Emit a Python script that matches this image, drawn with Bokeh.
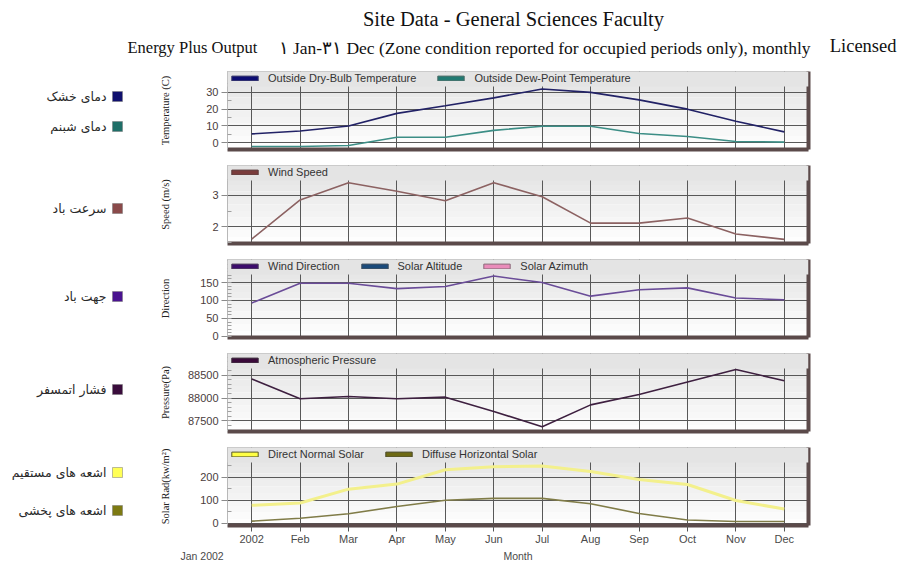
from bokeh.plotting import figure
from bokeh.models import Range1d, FixedTicker, LinearAxis, Legend, LegendItem, BoxAnnotation, Label
from bokeh.layouts import column, row
from bokeh.embed import file_html
from bokeh.resources import INLINE
from bokeh.core.properties import value

# ---------------- data ----------------
month_idx = list(range(12))
tick_labels = ["2002", "Feb", "Mar", "Apr", "May", "Jun", "Jul", "Aug", "Sep", "Oct", "Nov", "Dec"]

dry_bulb = [5.3, 7.0, 10.0, 17.5, 22.0, 26.7, 32.0, 30.0, 25.5, 20.0, 12.8, 6.5]
dew_point = [-2.2, -2.2, -1.6, 3.3, 3.3, 7.4, 9.8, 9.8, 5.5, 3.7, 0.8, 0.4]
wind_speed = [1.62, 2.85, 3.39, 3.12, 2.82, 3.39, 2.95, 2.12, 2.12, 2.28, 1.78, 1.61]
wind_dir = [93, 148, 148, 133, 139, 168, 150, 112, 130, 135, 107, 102]
pressure = [88420, 87985, 88035, 87985, 88020, 87705, 87370, 87850, 88080, 88355, 88630, 88380]
direct_solar = [78, 88, 148, 170, 232, 245, 248, 224, 190, 168, 99, 62]
diffuse_solar = [10, 22, 42, 73, 100, 108, 108, 85, 43, 15, 8, 8]

fa_labels = ["دمای خشک", "دمای شبنم", "سرعت باد", "جهت باد", "فشار اتمسفر",
             "اشعه های مستقیم", "اشعه های پخشی"]
fa_colors = ["#10106e", "#1f6f68", "#8a4a4a", "#4a1390", "#3a0c3c", "#ffff55", "#7d7a12"]
fa_panel = [0, 0, 1, 2, 3, 4, 4]
fa_offset = [25, 55, 43, 37, 36, 25, 63]

title_text = "Site Data - General Sciences Faculty"
sub_left = "Energy Plus Output"
sub_mid = "١ Jan-٣١ Dec (Zone condition reported for occupied periods only), monthly"
sub_right = "Licensed"
x_title = "Month"
x_start_note = "Jan 2002"

# ---------------- style ----------------
FRAME_W = 581
FRAME_H = 78
LEFT_B = 84
RIGHT_B = 10
TOP_B = 6
BOT_B = 10
PITCH = TOP_B + FRAME_H + BOT_B
LAST_BOTTOM = 22
HEADER_H = 65
FOOTER_H = 14
LEFT_W = 143
PANEL_W = LEFT_B + FRAME_W + RIGHT_B
PAGE_W = 900
SERIF = "Liberation Serif"
SANS = "Liberation Sans"
TICK_COLOR = "#4a3c3c"
GRID_COLOR = "#585858"
SHADOW = "#5b4a4a"
NAN = float("nan")


def make_panel(ylabel, yr, ticks, minor, series, legend_entries, standoff, last=False):
    bb = LAST_BOTTOM if last else BOT_B
    p = figure(width=PANEL_W, height=TOP_B + FRAME_H + bb,
               x_range=Range1d(-0.5, 11.5), y_range=Range1d(*yr),
               output_backend="svg", toolbar_location=None,
               min_border_left=LEFT_B, min_border_right=RIGHT_B,
               min_border_top=TOP_B, min_border_bottom=bb)
    p.background_fill_color = "white"
    p.border_fill_color = "white"
    p.outline_line_color = "#b8b8b8"

    # gradient background
    n = 12
    span = yr[1] - yr[0]
    for i in range(n):
        t = yr[1] - span * i / n
        b = yr[1] - span * (i + 1) / n
        g = int(226 + (254 - 226) * i / (n - 1))
        col = "#%02x%02x%02x" % (g, g, g)
        p.add_layout(BoxAnnotation(bottom=b, top=t, fill_color=col, fill_alpha=1.0,
                                   line_color=None, level="image"))

    # grids
    p.xgrid.ticker = FixedTicker(ticks=month_idx)
    p.xgrid.grid_line_color = GRID_COLOR
    p.xgrid.grid_line_width = 1
    p.ygrid.grid_line_color = GRID_COLOR
    p.ygrid.grid_line_width = 1

    # y axis
    ya = p.yaxis[0]
    ya.ticker = FixedTicker(ticks=ticks, minor_ticks=minor)
    ya.axis_label = ylabel
    ya.axis_label_text_font = SERIF
    ya.axis_label_text_font_size = "10.5px"
    ya.axis_label_text_font_style = "normal"
    ya.axis_label_text_color = "#222222"
    ya.axis_label_standoff = standoff
    ya.major_label_text_font = SANS
    ya.major_label_text_font_size = "11px"
    ya.major_label_text_color = TICK_COLOR
    ya.major_label_standoff = 3
    ya.axis_line_color = "#b8b8b8"
    ya.major_tick_out = 6
    ya.major_tick_in = 0
    ya.major_tick_line_color = "#8a8a8a"
    ya.minor_tick_in = 4
    ya.minor_tick_out = 0
    ya.minor_tick_line_color = "#a0a0a0"

    # x axis (thick dark bottom edge)
    xa = p.xaxis[0]
    xa.axis_line_color = SHADOW
    xa.axis_line_width = 4
    xa.minor_tick_line_color = None
    if last:
        xa.ticker = FixedTicker(ticks=month_idx)
        xa.major_label_overrides = {i: lab for i, lab in zip(month_idx, tick_labels)}
        xa.major_label_text_font = SANS
        xa.major_label_text_font_size = "11px"
        xa.major_label_text_color = "#4a4a4a"
        xa.major_label_standoff = 1
        xa.major_tick_out = 6
        xa.major_tick_in = 0
        xa.major_tick_line_color = "#555555"
    else:
        xa.ticker = FixedTicker(ticks=[])
        xa.major_tick_line_color = None
        xa.major_label_standoff = 0

    # right "shadow" edge
    ra = LinearAxis(ticker=FixedTicker(ticks=[]), axis_line_color=SHADOW, axis_line_width=4,
                    major_tick_line_color=None, minor_tick_line_color=None,
                    major_label_standoff=0)
    p.add_layout(ra, "right")

    # data lines
    for vals, color, lw in series:
        p.line(month_idx, vals, line_color=color, line_width=lw)

    # band under legend (hides gridlines like the original)
    band_bottom = yr[1] - span * 15 / FRAME_H
    p.add_layout(BoxAnnotation(bottom=band_bottom, top=yr[1], fill_color="#e4e4e4",
                               fill_alpha=1.0, line_color=None))

    items = []
    for lab, fc, lc in legend_entries:
        # legend swatch only (placeholder point is NaN, so nothing is drawn in the plot)
        r = p.rect(x=[NAN], y=[NAN], width=1, height=1, fill_color=fc, line_color=lc, line_width=1)
        items.append(LegendItem(label=lab, renderers=[r]))
    leg = Legend(items=items, location="top_left", orientation="horizontal",
                 glyph_width=33, glyph_height=6, label_standoff=7, spacing=18,
                 padding=3, margin=1, label_height=12,
                 label_text_font=SANS, label_text_font_size="11px", label_text_color="#333333",
                 background_fill_alpha=0, border_line_color=None)
    p.add_layout(leg)
    return p


p1 = make_panel("Temperature (C)", (-4, 42.4), [0, 10, 20, 30], [5, 15, 25, 35],
                [(dry_bulb, "#222266", 1.6), (dew_point, "#3c8e86", 1.6)],
                [("Outside Dry-Bulb Temperature", "#0c0c72", "#3a3a6a"),
                 ("Outside Dew-Point Temperature", "#217a72", "#4a6a66")], 32)
p2 = make_panel("Speed (m/s)", (1.48, 3.93), [2, 3], [1.5, 2.5, 3.5],
                [(wind_speed, "#8c6262", 1.6)],
                [("Wind Speed", "#7a3c3c", "#5a3a3a")], 38)
p3 = make_panel("Direction", (-3, 214), [0, 50, 100, 150], list(range(0, 211, 10)),
                [(wind_dir, "#6a4c98", 1.6)],
                [("Wind Direction", "#3c0c6c", "#4a3a5a"),
                 ("Solar Altitude", "#1a4a7a", "#3a4a5a"),
                 ("Solar Azimuth", "#ea8cba", "#8a6a7a")], 26)
p4 = make_panel("Pressure(Pa)", (87265, 88980), [87500, 88000, 88500], list(range(87300, 88901, 100)),
                [(pressure, "#3e2040", 1.6)],
                [("Atmospheric Pressure", "#3a0a3a", "#3a2a3a")], 14)
p5 = make_panel("Solar Rad(kw/m²)", (-9, 328), [0, 100, 200], [50, 150, 250],
                [(direct_solar, "#f3f08c", 3.0), (diffuse_solar, "#807c48", 1.6)],
                [("Direct Normal Solar", "#ffff44", "#5a5a2a"),
                 ("Diffuse Horizontal Solar", "#6e6a14", "#4a4a2a")], 26, last=True)


def blank(w, h):
    f = figure(width=w, height=h, x_range=Range1d(0, w), y_range=Range1d(h, 0),
               output_backend="svg", toolbar_location=None, x_axis_type=None, y_axis_type=None,
               min_border=0)
    f.grid.visible = False
    f.outline_line_color = None
    f.background_fill_color = "white"
    f.border_fill_color = "white"
    return f


# ---------------- footer under the month axis (page coordinates) ----------------
ft = blank(PAGE_W, FOOTER_H)
ft.add_layout(Label(x=180, y=8.5, text=x_start_note, text_font=SANS, text_font_size="10.5px",
                    text_color="#4a4a4a", text_align="left", text_baseline="middle"))
ft.add_layout(Label(x=LEFT_W + LEFT_B + FRAME_W / 2, y=8.5, text=x_title, text_font=SANS,
                    text_font_size="10.5px", text_color="#4a4a4a", text_align="center",
                    text_baseline="middle"))

# ---------------- header ----------------
hdr = blank(PAGE_W, HEADER_H)
hdr.add_layout(Label(x=513, y=18, text=title_text, text_font=SERIF,
                     text_font_size="20.5px", text_color="#111111", text_align="center",
                     text_baseline="middle"))
hdr.add_layout(Label(x=127, y=47, text=sub_left, text_font=SERIF,
                     text_font_size="16.5px", text_color="#111111", text_align="left",
                     text_baseline="middle"))
hdr.add_layout(Label(x=278, y=47, text=sub_mid,
                     text_font=SERIF, text_font_size="17.5px", text_color="#111111",
                     text_align="left", text_baseline="middle"))
hdr.add_layout(Label(x=896, y=45, text=sub_right, text_font=SERIF, text_font_size="18.5px",
                     text_color="#111111", text_align="right", text_baseline="middle"))

# ---------------- left Persian legend ----------------
left_h = 4 * PITCH + TOP_B + FRAME_H + LAST_BOTTOM
lf = blank(LEFT_W, left_h)
ys = [k * PITCH + TOP_B + off for k, off in zip(fa_panel, fa_offset)]
lf.scatter(x=[117] * len(ys), y=ys, marker="square", size=10, fill_color=fa_colors,
           line_color="#777777", line_width=0.5)
lf.text(x=[106] * len(ys), y=ys, text=fa_labels, text_align="right", text_baseline="middle",
        text_font=value("DejaVu Sans"), text_font_size="12.5px", text_color="#2a2a2a")

layout = column(hdr, row(lf, column(p1, p2, p3, p4, p5)), ft)
open("out.html", "w").write(file_html(layout, INLINE))
